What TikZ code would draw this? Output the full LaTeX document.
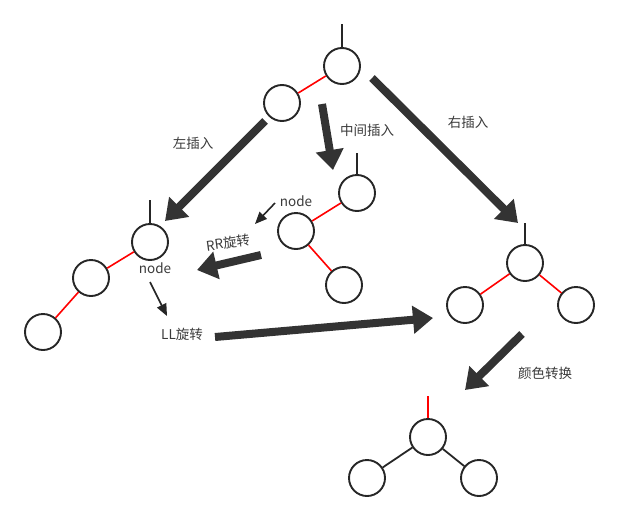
\documentclass[tikz,border=0pt]{standalone}
\usepackage{fontspec}
\setmainfont{Noto Sans CJK SC}
\usetikzlibrary{arrows.meta}
\definecolor{arrgray}{HTML}{333333}
\definecolor{ringgray}{HTML}{262626}
\definecolor{txtgray}{HTML}{3A3A3A}
\definecolor{edgered}{HTML}{FF0000}

\begin{document}
\begin{tikzpicture}[
        x=1pt, y=-1pt,
        font=\fontsize{13.5}{15}\selectfont,
        every node/.style={text=txtgray},
        nd/.style={circle, draw=ringgray, line width=1.9pt, minimum size=36pt,
                   inner sep=0pt, fill=white},
        redge/.style={draw=edgered, line width=1.6pt},
        bedge/.style={draw=ringgray, line width=1.8pt},
        stem/.style={draw=ringgray, line width=1.5pt},
        bigarr/.style={draw=arrgray, line width=8pt,
                       -{Triangle[length=20pt, width=27pt]}},
        smarr/.style={draw=ringgray, line width=1.6pt,
                      -{Triangle[length=12pt, width=10pt]}}
    ]
        \useasboundingbox (0,0) rectangle (620,522);

        \node[nd] (a1) at (342,66) {};
        \node[nd] (a2) at (282,103) {};
        \coordinate (a0) at (342,24);
        \draw[stem] (a0) -- (a1);
        \draw[redge] (a1) -- (a2);

        \node[nd] (c1) at (150,242) {};
        \node[nd] (c2) at (91,278) {};
        \node[nd] (c3) at (43,332) {};
        \coordinate (c0) at (150,200);
        \draw[stem] (c0) -- (c1);
        \draw[redge] (c1) -- (c2);
        \draw[redge] (c2) -- (c3);
        \node (cn) at (155,268) {node};
        \node (ll) at (182,334) {LL旋转};

        \node[nd] (d1) at (357,193) {};
        \node[nd] (d2) at (296,231) {};
        \node[nd] (d3) at (344,285) {};
        \coordinate (d0) at (357,153);
        \draw[stem] (d0) -- (d1);
        \draw[redge] (d1) -- (d2);
        \draw[redge] (d2) -- (d3);
        \node (dn) at (296,201) {node};
        \node[rotate=8] (rr) at (228,243) {RR旋转};

        \node[nd] (e1) at (525,263) {};
        \node[nd] (e2) at (465,305) {};
        \node[nd] (e3) at (576,305) {};
        \coordinate (e0) at (525,223);
        \draw[stem] (e0) -- (e1);
        \draw[redge] (e1) -- (e2);
        \draw[redge] (e1) -- (e3);

        \node[nd] (f1) at (428,437) {};
        \node[nd] (f2) at (367,478) {};
        \node[nd] (f3) at (479,478) {};
        \coordinate (f0) at (428,396);
        \draw[redge] (f0) -- (f1);
        \draw[bedge] (f1) -- (f2);
        \draw[bedge] (f1) -- (f3);

        \coordinate (p1) at (265,121);
        \coordinate (q1) at (165,221);
        \draw[bigarr] (p1) -- (q1);
        \node (left) at (193,143) {左插入};

        \coordinate (p2) at (322,104);
        \coordinate (q2) at (333,170);
        \draw[bigarr] (p2) -- (q2);
        \node (mid) at (367,130) {中间插入};

        \coordinate (p3) at (372,78);
        \coordinate (q3) at (518,223);
        \draw[bigarr] (p3) -- (q3);
        \node (right) at (468,122) {右插入};

        \coordinate (p4) at (215,337);
        \coordinate (q4) at (433,318);
        \draw[bigarr] (p4) -- (q4);

        \coordinate (p5) at (522,334);
        \coordinate (q5) at (465,390);
        \draw[bigarr] (p5) -- (q5);
        \node (color) at (545,373) {颜色转换};

        \coordinate (p6) at (261,255);
        \coordinate (q6) at (197,270);
        \draw[bigarr] (p6) -- (q6);

        \coordinate (s1) at (150,282);
        \coordinate (t1) at (167,316);
        \draw[smarr] (s1) -- (t1);
        \coordinate (s2) at (275,203);
        \coordinate (t2) at (255,224);
        \draw[smarr] (s2) -- (t2);
    \end{tikzpicture}
\end{document}
